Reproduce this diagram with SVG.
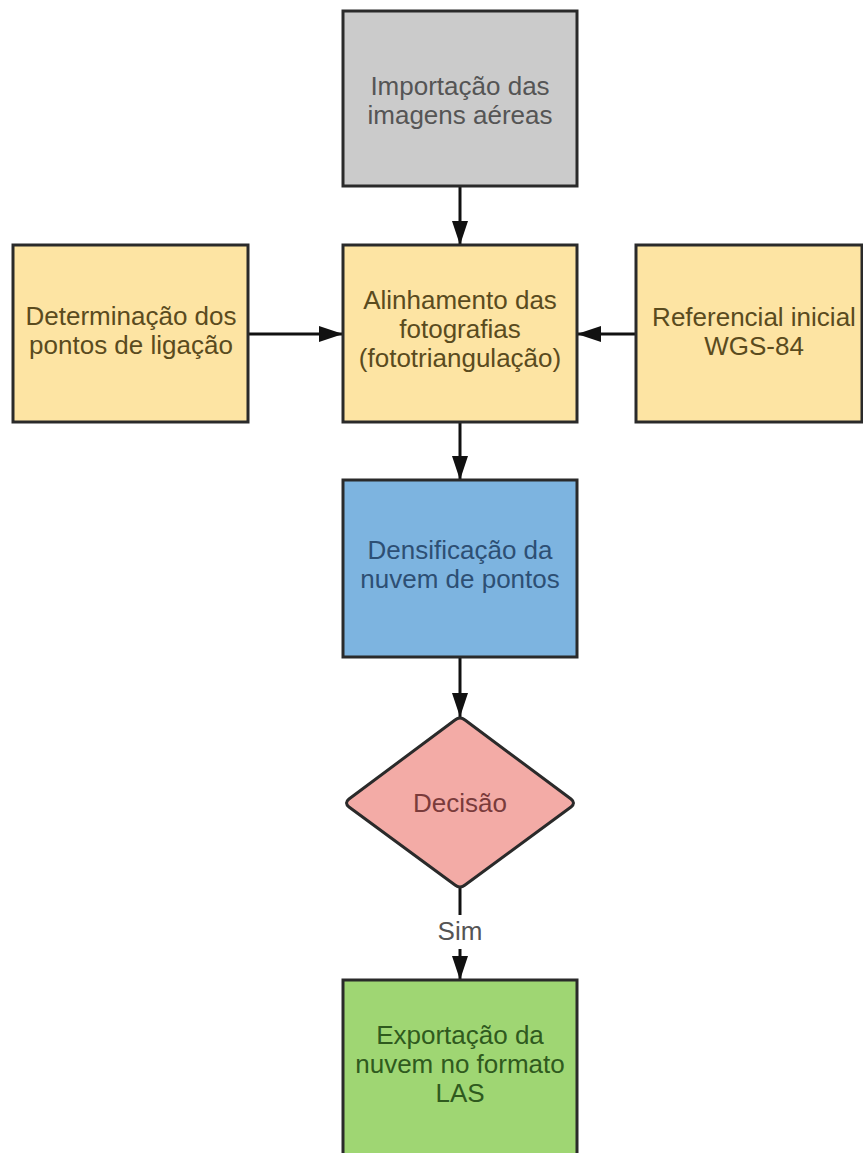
<svg xmlns="http://www.w3.org/2000/svg" width="863" height="1153" viewBox="0 0 863 1153">
  <style>
    .box { stroke: #2a2a2a; stroke-width: 3; }
    .lbl { font-family: "Liberation Sans", Arial, sans-serif; font-size: 26px; text-anchor: middle; }
    .edge { stroke: #111; stroke-width: 3; fill: none; }
    .grey { fill: #cbcbcb; }
    .yellow { fill: #fde4a3; }
    .blue { fill: #7db4e0; }
    .pink { fill: #f3aba6; }
    .green { fill: #9fd673; }
    .t-grey { fill: #555555; }
    .t-yellow { fill: #5a4b1e; }
    .t-blue { fill: #2d4f74; }
    .t-pink { fill: #7a3b3b; }
    .t-green { fill: #2f5a1e; }
  </style>
  <defs>
    <marker id="arrow" markerUnits="userSpaceOnUse" markerWidth="24" markerHeight="16" refX="24" refY="8" orient="auto">
      <path d="M0,0 L24,8 L0,16 z" fill="#111"/>
    </marker>
  </defs>

  <rect width="863" height="1153" fill="#ffffff"/>

  <g id="connectors">
    <line class="edge" x1="460" y1="186" x2="460" y2="245" marker-end="url(#arrow)"/>
    <line class="edge" x1="248" y1="334" x2="343" y2="334" marker-end="url(#arrow)"/>
    <line class="edge" x1="636" y1="334" x2="577" y2="334" marker-end="url(#arrow)"/>
    <line class="edge" x1="460" y1="422" x2="460" y2="480" marker-end="url(#arrow)"/>
    <line class="edge" x1="460" y1="657" x2="460" y2="717" marker-end="url(#arrow)"/>
    <line class="edge" x1="460" y1="888" x2="460" y2="915"/>
    <line class="edge" x1="460" y1="949" x2="460" y2="980" marker-end="url(#arrow)"/>
    <text class="lbl t-grey" x="460" y="940">Sim</text>
  </g>

  <g id="import">
    <rect class="box grey" x="343" y="11" width="234" height="175"/>
    <text class="lbl t-grey" x="460" y="95">Importação das</text>
    <text class="lbl t-grey" x="460" y="124">imagens aéreas</text>
  </g>

  <g id="tiepoints">
    <rect class="box yellow" x="13" y="245" width="235" height="177"/>
    <text class="lbl t-yellow" x="131" y="325">Determinação dos</text>
    <text class="lbl t-yellow" x="131" y="354">pontos de ligação</text>
  </g>

  <g id="alignment">
    <rect class="box yellow" x="343" y="245" width="234" height="177"/>
    <text class="lbl t-yellow" x="460" y="309">Alinhamento das</text>
    <text class="lbl t-yellow" x="460" y="338">fotografias</text>
    <text class="lbl t-yellow" x="460" y="367">(fototriangulação)</text>
  </g>

  <g id="reference">
    <rect class="box yellow" x="636" y="245" width="226" height="177"/>
    <text class="lbl t-yellow" x="754" y="326">Referencial inicial</text>
    <text class="lbl t-yellow" x="754" y="355">WGS-84</text>
  </g>

  <g id="densify">
    <rect class="box blue" x="343" y="480" width="234" height="177"/>
    <text class="lbl t-blue" x="460" y="559">Densificação da</text>
    <text class="lbl t-blue" x="460" y="588">nuvem de pontos</text>
  </g>

  <g id="decision">
    <path class="box pink" stroke-linejoin="round" d="M455,720 Q460,716 465,720 L571,799 Q576,803 571,807 L465,885 Q460,889 455,885 L349,807 Q344,803 349,799 Z"/>
    <text class="lbl t-pink" x="460" y="812">Decisão</text>
  </g>

  <g id="export">
    <rect class="box green" x="343" y="980" width="234" height="185"/>
    <text class="lbl t-green" x="460" y="1044">Exportação da</text>
    <text class="lbl t-green" x="460" y="1073">nuvem no formato</text>
    <text class="lbl t-green" x="460" y="1102">LAS</text>
  </g>
</svg>
